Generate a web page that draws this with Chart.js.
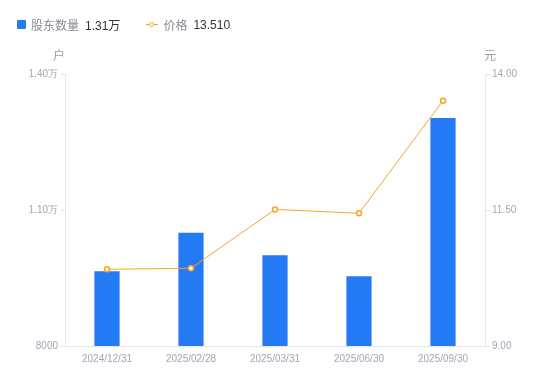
<!DOCTYPE html>
<html>
<head>
<meta charset="utf-8">
<script src="https://cdn.jsdelivr.net/npm/chart.js@4/dist/chart.umd.min.js"></script>
<style>
  body { margin: 0; background: #fff; font-family: "Liberation Sans", "Noto Sans CJK SC", sans-serif; }
  #wrap { position: relative; width: 550px; height: 381px; }
  #legend { position: absolute; left: 17px; top: 16px; font-size: 12px; color: #888c99; display: flex; align-items: center; }
  #legend .item { display: flex; align-items: center; margin-right: 26px; }
  #legend .val { color: #333; margin-left: 6px; }
  .sq { width: 9px; height: 9px; background: #2479f4; border-radius: 1px; margin-right: 5px; }
  .ln { position: relative; width: 12px; height: 9px; margin-right: 5px; }
  .ln:before { content: ""; position: absolute; left: 0; right: 0; top: 4px; height: 1px; background: #f5a623; }
  .ln:after { content: ""; position: absolute; left: 3px; top: 1.5px; width: 3px; height: 3px; border: 1.5px solid #f5a623; border-radius: 50%; background: #fff; }
</style>
</head>
<body>
<div id="wrap">
  <div id="legend">
    <div class="item"><span class="sq"></span>股东数量<span class="val">1.31万</span></div>
    <div class="item"><span class="ln"></span>价格<span class="val">13.510</span></div>
  </div>
  <canvas id="chart" width="550" height="381"></canvas>
</div>
<script>
const dates = ['2024/12/31', '2025/02/28', '2025/03/31', '2025/06/30', '2025/09/30'];
const holders = [9650, 10500, 10000, 9540, 13030];
const prices = [10.41, 10.43, 11.51, 11.44, 13.51];

const tickColor = '#a3a6b4';
const lineColor = '#e6e6ea';

// axis unit labels above each y axis
const unitLabels = {
    id: 'unitLabels',
    afterDraw(chart) {
        const ctx = chart.ctx;
        ctx.save();
        ctx.font = '12px "Liberation Sans", "Noto Sans CJK SC", sans-serif';
        ctx.fillStyle = '#999ba8';
        ctx.textAlign = 'center';
        ctx.textBaseline = 'middle';
        ctx.fillText('户', 59, 57);
        ctx.fillText('元', 490, 57);
        ctx.restore();
    }
};

const ctx = document.getElementById('chart').getContext('2d');
new Chart(ctx, {
    data: {
        labels: dates,
        datasets: [{
            type: 'line',
            label: '价格',
            data: prices,
            yAxisID: 'y1',
            borderColor: '#f5a623',
            borderWidth: 1,
            pointRadius: 2.5,
            pointBorderWidth: 1.5,
            pointBackgroundColor: '#fff',
            pointBorderColor: '#f5a623',
            tension: 0,
            order: 0
        }, {
            type: 'bar',
            label: '股东数量',
            data: holders,
            yAxisID: 'y',
            backgroundColor: '#2479f4',
            barPercentage: 0.3,
            categoryPercentage: 1,
            order: 1
        }]
    },
    options: {
        responsive: false,
        animation: false,
        layout: { padding: { top: 74, left: 0, right: 0, bottom: 0 } },
        plugins: { legend: { display: false }, tooltip: { enabled: false } },
        scales: {
            x: {
                grid: { display: false, tickLength: 0 },
                border: { display: true, color: lineColor },
                ticks: { color: tickColor, font: { size: 10 }, padding: 7, maxRotation: 0 },
                afterFit(scale) { scale.height = 35; }
            },
            y: {
                position: 'left',
                min: 8000,
                max: 14000,
                grid: { drawOnChartArea: false, drawTicks: true, tickLength: 5, color: lineColor },
                border: { display: true, color: lineColor },
                ticks: {
                    stepSize: 3000,
                    color: tickColor,
                    font: { size: 10 },
                    padding: 2,
                    callback: v => v >= 10000 ? (v / 10000).toFixed(2) + '万' : String(v)
                },
                afterFit(scale) { scale.width = 65; }
            },
            y1: {
                position: 'right',
                min: 9,
                max: 14,
                grid: { drawOnChartArea: false, drawTicks: true, tickLength: 5, color: lineColor },
                border: { display: true, color: lineColor },
                ticks: {
                    stepSize: 2.5,
                    color: tickColor,
                    font: { size: 10 },
                    padding: 2,
                    callback: v => v.toFixed(2)
                },
                afterFit(scale) { scale.width = 65; }
            }
        }
    },
    plugins: [unitLabels]
});
</script>
</body>
</html>
